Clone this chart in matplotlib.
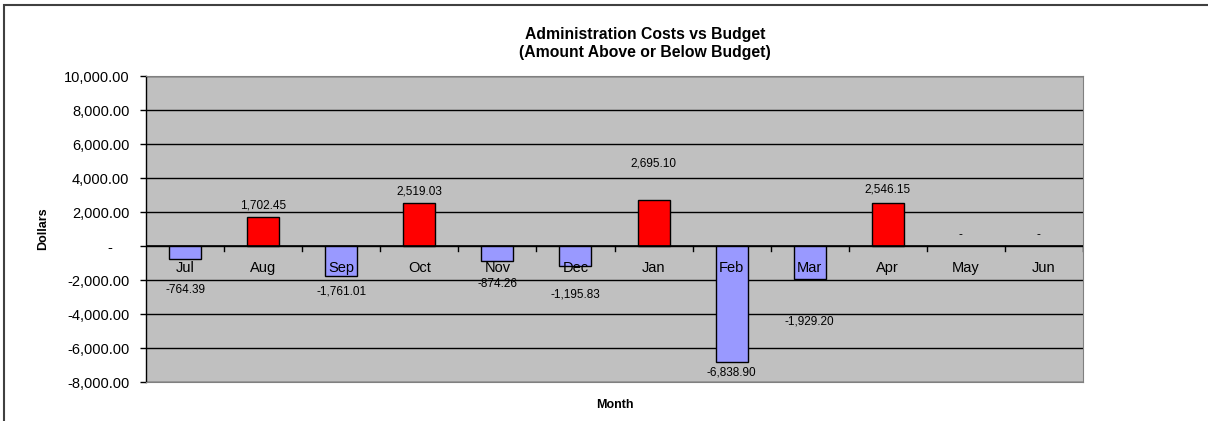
import matplotlib
matplotlib.use("Agg")
import matplotlib.pyplot as plt
from matplotlib.ticker import FuncFormatter, FixedLocator
from matplotlib.patches import Rectangle

months = ["Jul", "Aug", "Sep", "Oct", "Nov", "Dec", "Jan", "Feb", "Mar", "Apr", "May", "Jun"]
variance = [-764.39, 1702.45, -1761.01, 2519.03, -874.26, -1195.83,
            2695.10, -6838.90, -1929.20, 2546.15, 0.0, 0.0]

# where Excel put each data label, pixels from the bar end (up is positive)
label_dy = [-31, 12, -16, 12, -23, -28, 37, -10, -43, 13, 11, 11]

plt.rcParams['font.family'] = ['Liberation Sans', 'DejaVu Sans']

W, H = 1208, 421
fig = plt.figure(figsize=(W / 100, H / 100), dpi=100)
ax = fig.add_axes([146 / W, 1 - 382 / H, (1083 - 146) / W, (382 - 76) / H])

# outer chart frame (only top and left visible)
fig.patches.append(Rectangle((4 / W, -0.1), 1.2, 1 - 5 / H + 0.1, transform=fig.transFigure,
                             fill=False, edgecolor='#404040', linewidth=1.5))

ax.set_facecolor('#C0C0C0')
x = list(range(len(months)))
colors = ['#FF0000' if v > 0 else '#9999FF' for v in variance]
edges = [0 if v == 0 else 1 for v in variance]
ax.bar(x, variance, width=0.41, color=colors, edgecolor='black', linewidth=edges, zorder=3)

ax.set_xlim(-0.5, len(months) - 0.5)
ax.set_ylim(-8000, 10000)
ax.yaxis.set_major_locator(FixedLocator(range(-8000, 10001, 2000)))
# accounting style: zero shows as a dash, padded like the decimals
ax.yaxis.set_major_formatter(FuncFormatter(lambda v, p: '-    ' if v == 0 else f"{v:,.2f}"))
ax.grid(axis='y', color='black', linewidth=1, zorder=1)
ax.tick_params(axis='y', labelsize=10.5, length=4, width=1, pad=8)

for s in ['top', 'right', 'bottom']:
    ax.spines[s].set_color('#808080')
ax.spines['left'].set_linewidth(1)

# category axis drawn along zero
ax.set_xticks([])
ax.axhline(0, color='black', linewidth=1.2, zorder=4)
for b in range(1, len(months) + 1):
    ax.plot([b - 0.5, b - 0.5], [0, -300], color='black', linewidth=1, zorder=4)
for i, m in enumerate(months):
    ax.text(i, -1300, m, ha='center', va='center', fontsize=10.5, zorder=5)

for i, v in enumerate(variance):
    lbl = '-   ' if v == 0 else f"{v:,.2f}"
    ax.annotate(lbl, (i, v), xytext=(0, label_dy[i]), textcoords='offset pixels',
                ha='center', va='center', fontsize=8.5, zorder=5)

ax.set_ylabel('Dollars', fontsize=9, fontweight='bold', labelpad=10.5)
ax.set_xlabel('Month', fontsize=9, fontweight='bold', labelpad=12)
fig.text(645 / W, 1 - 43.5 / H, 'Administration Costs vs Budget\n(Amount Above or Below Budget)',
         ha='center', va='center', fontsize=11.3, fontweight='bold', linespacing=1.2)

fig.savefig('out.png', dpi=100)
